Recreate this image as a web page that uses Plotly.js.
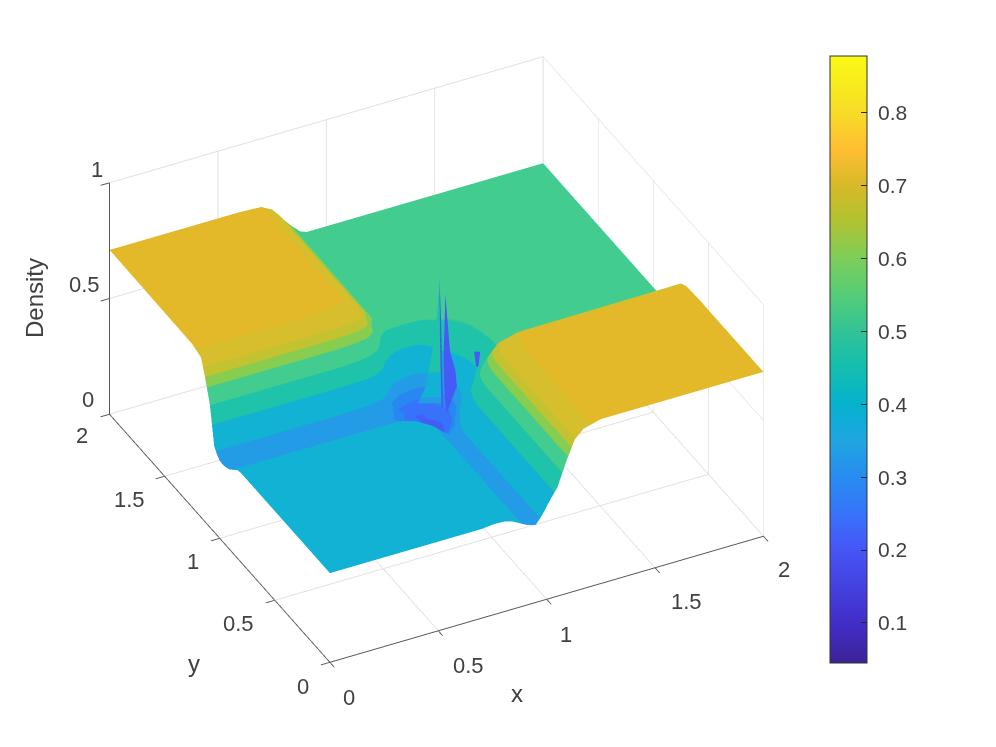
<!DOCTYPE html>
<html>
<head>
<meta charset="utf-8">
<script src="https://cdn.plot.ly/plotly-3.0.1.min.js"></script>
<style>html,body{margin:0;padding:0;background:#fff}#chart{width:996px;height:747px}</style>
</head>
<body>
<div id="chart"></div>
<script>
// grid lines, packed tighter around the waves near x,y = 1
const gridX = [0,0.6,0.70,0.75,0.78,0.81,0.84,0.88,0.91,0.93,0.95,0.98,1.0,1.02,1.05,1.09,1.13,1.17,1.25,2];
const gridY = gridX.slice();

// density, one row per gridY value
const density = [
[.385,.385,.385,.39,.39,.388,.38,.36,.345,.34,.335,.37,.40,.43,.47,.57,.655,.69,.71,.71],
[.385,.385,.385,.39,.39,.388,.38,.36,.345,.34,.335,.37,.40,.43,.47,.57,.655,.69,.71,.71],
[.385,.385,.385,.39,.39,.388,.38,.36,.345,.34,.335,.37,.40,.43,.47,.57,.65,.685,.705,.705],
[.385,.385,.385,.388,.388,.385,.38,.36,.34,.33,.325,.35,.385,.415,.46,.55,.63,.665,.685,.69],
[.385,.385,.385,.385,.385,.383,.375,.36,.335,.32,.31,.33,.365,.40,.45,.53,.60,.64,.66,.67],
[.385,.385,.385,.385,.383,.378,.37,.35,.325,.31,.295,.31,.34,.38,.43,.50,.565,.60,.625,.635],
[.38,.38,.38,.38,.38,.372,.36,.335,.31,.29,.27,.28,.30,.35,.40,.46,.52,.555,.585,.60],
[.36,.36,.36,.36,.358,.35,.335,.31,.285,.265,.24,.25,.27,.30,.36,.42,.47,.51,.55,.56],
[.345,.345,.345,.345,.34,.33,.31,.285,.26,.24,.22,.23,.24,.26,.32,.39,.45,.49,.535,.54],
[.34,.34,.34,.338,.33,.315,.295,.27,.245,.225,.21,.21,.22,.24,.30,.37,.43,.48,.53,.54],
[.335,.335,.335,.33,.32,.305,.285,.25,.23,.21,.20,.20,.21,.23,.28,.36,.42,.47,.53,.54],
[.333,.333,.333,.325,.315,.30,.28,.25,.225,.205,.195,.20,.21,.22,.27,.35,.42,.47,.53,.54],
[.335,.335,.333,.325,.32,.305,.285,.25,.225,.205,.195,.195,.205,.22,.26,.35,.42,.48,.53,.54],
[.345,.345,.34,.335,.325,.31,.285,.255,.23,.215,.205,.205,.21,.23,.27,.355,.43,.48,.535,.54],
[.37,.37,.365,.355,.34,.32,.295,.27,.25,.235,.22,.22,.23,.26,.31,.38,.445,.49,.535,.54],
[.53,.53,.51,.48,.44,.39,.30,.26,.24,.23,.22,.22,.24,.28,.35,.43,.47,.50,.54,.54],
[.615,.615,.60,.58,.55,.50,.40,.33,.31,.30,.29,.29,.30,.33,.40,.47,.49,.515,.54,.54],
[.69,.69,.675,.65,.61,.56,.50,.43,.41,.40,.39,.39,.40,.41,.45,.505,.515,.525,.54,.54],
[.705,.705,.70,.675,.645,.61,.58,.545,.535,.535,.535,.535,.535,.535,.535,.54,.54,.54,.54,.54],
[.71,.71,.705,.68,.65,.615,.585,.55,.54,.54,.54,.54,.54,.54,.54,.54,.54,.54,.54,.54]
];

// the thin spikes at the middle, all in the plane y = 1
const flankX = [[.913,1.023],[.950,1.021],[.982,1.018],[1.005,1.016],[1.014,1.014]];
const flankZ = [[.334,.305],[.394,.375],[.546,.536],[.714,.711],[.842,.842]];
const flankColor = [[.32,.32],[.42,.42],[.50,.50],[.50,.50],[.55,.55]];
const spike1X = [[1.014,1.014],[1.014,1.021],[1.018,1.027],[1.023,1.030]];
const spike1Z = [[.842,.842],[.668,.666],[.449,.447],[.287,.286]];
const spike2X = [[1.041,1.041],[1.037,1.059],[1.032,1.064],[1.037,1.087],[1.050,1.11]];
const spike2Z = [[.770,.770],[.631,.556],[.489,.511],[.344,.431],[.210,.195]];
// small blue patch behind the right wall, in the plane y = 0.9
const patchX = [[1.123,1.151],[1.132,1.142]];
const patchZ = [[.554,.546],[.486,.484]];
const spikeBlue = 0.2;

const tickVals = [0,0.5,1,1.5,2];
const zTicks = [0,0.5,1];
const barTicks = [0.1,0.2,0.3,0.4,0.5,0.6,0.7,0.8];
const zMin = 0.045, zMax = 0.878;

// tick labels and axis titles, placed as text: label, pixel x, pixel y
const xLabels = [['0',349,697],['0.5',468,665],['1',566,634],['1.5',686,601],['2',784,569]];
const yLabels = [['0',303,686],['0.5',238,623],['1',193,561],['1.5',129,499],['2',82,435]];
const zLabels = [['0',88,399],['0.5',84,284],['1',97,169]];
const titles = [['x',517,693,0],['y',194,663,0],['Density',34,298,-90]];

// smooth colours of the colour bar: value, colour
const barStops = [
[.045,'rgb(60,35,150)'],[.1,'rgb(66,45,200)'],[.2,'rgb(70,85,245)'],[.25,'rgb(55,115,250)'],
[.3,'rgb(40,140,240)'],[.35,'rgb(32,165,225)'],[.4,'rgb(5,178,205)'],[.45,'rgb(20,190,175)'],
[.5,'rgb(50,195,150)'],[.55,'rgb(85,205,120)'],[.6,'rgb(125,205,90)'],[.65,'rgb(175,195,50)'],
[.7,'rgb(215,185,40)'],[.75,'rgb(255,190,50)'],[.8,'rgb(247,220,40)'],[.878,'rgb(250,250,20)']
];
// the surface shows flat bands: upper limit of each band, colour
const bands = [
[.15,'rgb(66,60,220)'],[.22,'rgb(70,90,245)'],[.27,'rgb(55,115,250)'],[.31,'rgb(40,135,240)'],
[.36,'rgb(35,155,230)'],[.452,'rgb(18,178,212)'],[.53,'rgb(30,195,170)'],[.589,'rgb(66,204,143)'],
[.626,'rgb(135,205,80)'],[.66,'rgb(195,195,50)'],[.70,'rgb(214,190,45)'],[.878,'rgb(227,185,42)']
];

function norm(v) { return (v - zMin) / (zMax - zMin); }
const barScale = barStops.map(s => [norm(s[0]), s[1]]);
let bandScale = [];
let low = zMin;
bands.forEach(b => {
    bandScale.push([norm(low), b[1]]);
    bandScale.push([norm(b[0]), b[1]]);
    low = b[0];
});

function rows(n, v) { return new Array(n).fill(0).map(() => [v, v]); }
function sliver(x, z, color, yPlane) {
    return {
        type: 'surface', x: x, y: rows(x.length, yPlane), z: z, surfacecolor: color,
        cmin: zMin, cmax: zMax, colorscale: bandScale, showscale: false, hoverinfo: 'skip',
        lighting: {ambient: 1, diffuse: 0, specular: 0, roughness: 1, fresnel: 0}
    };
}

const main = {
    type: 'surface', x: gridX, y: gridY, z: density,
    cmin: zMin, cmax: zMax, colorscale: bandScale, showscale: false,
    lighting: {ambient: 1, diffuse: 0, specular: 0, roughness: 1, fresnel: 0}
};
// carries the colour bar only
const barTrace = {
    type: 'scatter3d', mode: 'markers', x: [1,1], y: [1,1], z: [zMin,zMax], hoverinfo: 'skip',
    marker: {
        size: 1, opacity: 0, color: [zMin,zMax], cmin: zMin, cmax: zMax, colorscale: barScale, showscale: true,
        colorbar: {
            x: 830/996, xanchor: 'left', xpad: 0, ypad: 0, y: 1-359.5/747, yanchor: 'middle',
            thickness: 37, thicknessmode: 'pixels', len: 607, lenmode: 'pixels',
            tickmode: 'array', tickvals: barTicks, ticktext: barTicks.map(v => '\u00a0' + v),
            ticks: 'inside', ticklen: 6, tickcolor: '#262626', tickwidth: 1,
            outlinecolor: '#333', outlinewidth: 1, tickfont: {family: 'Liberation Sans', size: 21, color: '#404040'}
        }
    }
};

function axis(vals, range) {
    return {
        title: {text: ''}, range: range, tickmode: 'array', tickvals: vals, showticklabels: false,
        showbackground: false, gridcolor: '#e0e0e0', gridwidth: 2, zeroline: false, showspikes: false,
        showline: true, linecolor: '#555', linewidth: 2, ticks: 'outside', ticklen: 10, tickcolor: '#555', tickwidth: 2
    };
}

function textNote(item, size, angle) {
    return {
        xref: 'paper', yref: 'paper', x: item[1]/996, y: 1-item[2]/747, xanchor: 'center', yanchor: 'middle',
        text: item[0], showarrow: false, textangle: angle || 0,
        font: {family: 'Liberation Sans', size: size, color: '#404040'}
    };
}

const traces = [
    main,
    sliver(flankX, flankZ, flankColor, 1),
    sliver(spike1X, spike1Z, rows(spike1X.length, spikeBlue), 1),
    sliver(spike2X, spike2Z, rows(spike2X.length, spikeBlue), 1),
    sliver(patchX, patchZ, rows(patchX.length, spikeBlue), 0.9),
    barTrace
];

const layout = {
    width: 996, height: 747, margin: {l: 0, r: 0, t: 0, b: 0}, paper_bgcolor: '#fff',
    showlegend: false,
    annotations: xLabels.concat(yLabels, zLabels).map(t => textNote(t, 22))
        .concat(titles.map(t => textNote(t, 24, t[3]))),
    scene: {
        domain: {x: [0, 873/996], y: [1-719/747, 1]},
        aspectmode: 'manual', aspectratio: {x: 1.353, y: 1.353, z: 0.785},
        camera: {
            eye: {x: -0.743, y: -1.462, z: 1.144}, up: {x: 0, y: 0, z: 1}, center: {x: 0, y: 0, z: 0},
            projection: {type: 'orthographic'}
        },
        xaxis: axis(tickVals, [0,2]),
        yaxis: axis(tickVals, [0,2]),
        zaxis: axis(zTicks, [0,1])
    }
};

Plotly.newPlot('chart', traces, layout, {displayModeBar: false});
</script>
</body>
</html>
